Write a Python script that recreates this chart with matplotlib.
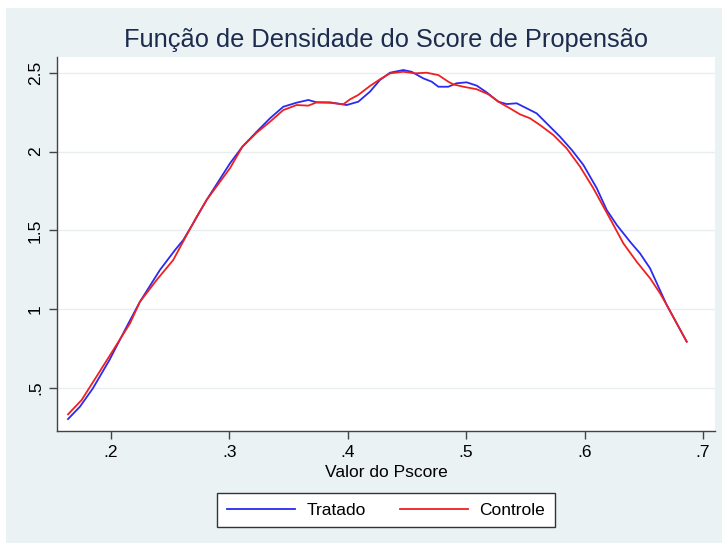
import numpy as np
from matplotlib import pyplot as plt
from matplotlib.patches import Rectangle
import matplotlib.ticker as ticker

plt.rcParams['font.family'] = ['Liberation Sans', 'DejaVu Sans']

# densidade - tratados
pscore_tratado = [0.164, 0.174, 0.185, 0.199, 0.2135, 0.2247, 0.2416, 0.2543, 0.2613, 0.2697,
                  0.281, 0.3007, 0.3112, 0.3233, 0.3345, 0.3457, 0.357, 0.3668, 0.3739, 0.3851,
                  0.3992, 0.409, 0.4189, 0.4273, 0.4358, 0.447, 0.454, 0.4639, 0.471, 0.4766,
                  0.485, 0.492, 0.5005, 0.509, 0.5174, 0.5272, 0.5343, 0.5427, 0.5512, 0.5596,
                  0.568, 0.5793, 0.5892, 0.599, 0.6103, 0.6187, 0.6272, 0.6384, 0.6468, 0.6553,
                  0.6623, 0.6694, 0.6862]
dens_tratado = [0.303, 0.381, 0.498, 0.678, 0.889, 1.047, 1.249, 1.375, 1.439, 1.545,
                1.693, 1.925, 2.031, 2.126, 2.211, 2.284, 2.310, 2.327, 2.312, 2.312,
                2.295, 2.316, 2.380, 2.454, 2.500, 2.517, 2.506, 2.464, 2.443, 2.411,
                2.411, 2.433, 2.439, 2.418, 2.375, 2.316, 2.301, 2.306, 2.274, 2.242,
                2.179, 2.094, 2.010, 1.915, 1.767, 1.629, 1.534, 1.428, 1.354, 1.259,
                1.143, 1.026, 0.794]

# densidade - controle
pscore_controle = [0.164, 0.1755, 0.188, 0.2022, 0.2163, 0.2247, 0.2388, 0.2528, 0.2627, 0.2726,
                   0.281, 0.3007, 0.3112, 0.3233, 0.3345, 0.3457, 0.357, 0.3668, 0.3739, 0.3851,
                   0.3964, 0.402, 0.409, 0.4189, 0.4273, 0.4358, 0.447, 0.4569, 0.4667, 0.4766,
                   0.485, 0.4892, 0.4977, 0.509, 0.5188, 0.5286, 0.537, 0.5455, 0.5539, 0.5624,
                   0.5736, 0.5849, 0.5962, 0.6074, 0.6229, 0.6327, 0.644, 0.6553, 0.6637, 0.6694,
                   0.6862]
dens_controle = [0.333, 0.424, 0.572, 0.741, 0.910, 1.047, 1.185, 1.312, 1.450, 1.587,
                 1.693, 1.894, 2.031, 2.120, 2.189, 2.263, 2.295, 2.291, 2.312, 2.309,
                 2.300, 2.331, 2.359, 2.416, 2.458, 2.496, 2.506, 2.496, 2.500, 2.485,
                 2.443, 2.426, 2.411, 2.395, 2.363, 2.310, 2.274, 2.236, 2.211, 2.168,
                 2.105, 2.020, 1.904, 1.767, 1.555, 1.418, 1.301, 1.196, 1.101, 1.026,
                 0.794]

xticks = [0.2, 0.3, 0.4, 0.5, 0.6, 0.7]
yticks = [0.5, 1, 1.5, 2, 2.5]

bg = "#eaf2f3"
fig = plt.figure(figsize=(7.22, 5.43), dpi=100, facecolor="white")
fig.patches.append(Rectangle((6 / 722, 0), 1, 1 - 8 / 543, transform=fig.transFigure,
                             facecolor=bg, edgecolor="none", zorder=-10))

ax = fig.add_axes([57 / 722, 112 / 543, 658 / 722, 374 / 543])
ax.set_facecolor("white")

ax.plot(pscore_tratado, dens_tratado, color="#2a2af0", lw=1.3, label="Tratado")
ax.plot(pscore_controle, dens_controle, color="#f02020", lw=1.3, label="Controle")

ax.set_xlim(0.1547, 0.7101)
ax.set_ylim(0.2273, 2.5996)
ax.set_xticks(xticks)
ax.set_yticks(yticks)

# estilo Stata: sem zero à esquerda
fmt = ticker.FuncFormatter(lambda v, p: ("%g" % v).lstrip("0") if v < 1 else "%g" % v)
ax.xaxis.set_major_formatter(fmt)
ax.yaxis.set_major_formatter(fmt)

ax.grid(axis="y", color="#e8eef0", lw=1.0)
ax.set_axisbelow(True)
for s in ["top", "right"]:
    ax.spines[s].set_visible(False)
for s in ["left", "bottom"]:
    ax.spines[s].set_color("#444444")
    ax.spines[s].set_linewidth(1.0)

ax.tick_params(axis="both", length=6, width=1, color="#444444", labelsize=12.5, pad=4)
for lbl in ax.get_yticklabels():
    lbl.set_rotation(90)
    lbl.set_va("center")

ax.set_xlabel("Valor do Pscore", fontsize=12.5, labelpad=4)
fig.suptitle("Função de Densidade do Score de Propensão", x=386 / 722, y=1 - 40 / 543,
             va="center", fontsize=18.3, color="#1c2b4e")

leg = fig.legend(loc="center", bbox_to_anchor=(386 / 722, 1 - 510 / 543), ncol=2,
                 fontsize=12.5, handlelength=3.95, columnspacing=1.95, handletextpad=0.65,
                 fancybox=False, edgecolor="#333333", framealpha=1, borderpad=0.55,
                 borderaxespad=0)
leg.get_frame().set_linewidth(1.0)

plt.savefig("out.png", dpi=100, facecolor=fig.get_facecolor())
